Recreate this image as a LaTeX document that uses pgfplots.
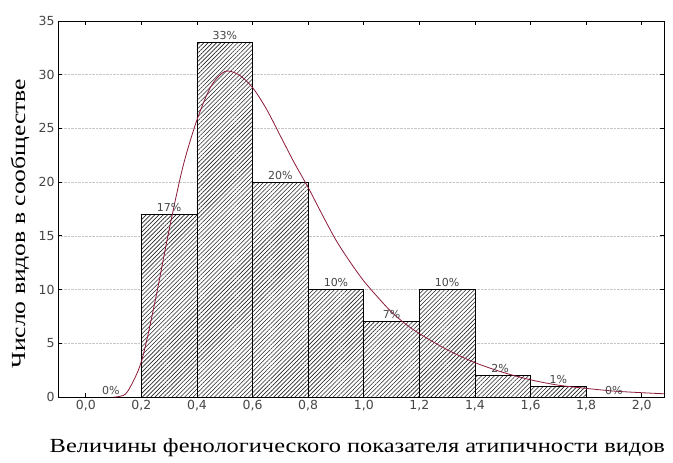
\documentclass[border=0pt]{standalone}
\usepackage{fontspec}
\setmainfont{Liberation Serif}
\newfontfamily\xlabfont[FakeStretch=1.22]{Liberation Serif}
\newfontfamily\ylabfont[FakeStretch=1.28]{Liberation Serif}
\newfontfamily\tickfont{DejaVu Sans}
\usepackage{pgfplots}
\pgfplotsset{compat=1.18}
\usetikzlibrary{patterns.meta}
\definecolor{fitred}{RGB}{140,25,55}
\definecolor{tickgray}{RGB}{70,70,70}
\begin{document}
\begin{tikzpicture}
\begin{axis}[
  name=ax, at={(0,0)}, anchor=south west,
  scale only axis, width=606pt, height=376pt,
  xmin=-0.1, xmax=2.08, ymin=0, ymax=35,
  xtick={0,0.2,0.4,0.6,0.8,1,1.2,1.4,1.6,1.8,2},
  ytick={0,5,10,15,20,25,30,35},
  tick align=inside, major tick length=4pt,
  tick style={black, line width=0.8pt},
  axis line style={black, line width=0.9pt},
  ymajorgrids, major grid style={densely dotted, gray!45, line width=0.6pt},
  /pgf/number format/assume math mode=true,
  xticklabel style={font=\tickfont\fontsize{12.5}{14}\selectfont, text=tickgray, /pgf/number format/.cd, fixed, fixed zerofill, precision=1, use comma},
  yticklabel style={font=\tickfont\fontsize{12.5}{14}\selectfont, text=tickgray},
  xlabel={Величины фенологического показателя атипичности видов},
  ylabel={Число видов в сообществе},
  xlabel style={font=\xlabfont\fontsize{20}{22}\selectfont, at={(axis description cs:0.494,0)}, anchor=center, yshift=-51pt},
  ylabel style={font=\ylabfont\fontsize{20}{22}\selectfont, at={(axis description cs:-0.0627,0.461)}, anchor=center},
  clip=false,
]
\addplot[ybar interval, draw=black, line width=0.8pt, fill=white,
  postaction={pattern={Lines[angle=45, distance=3pt, line width=0.6pt]}, pattern color=black!85}]
  coordinates {(0.2,17) (0.4,33) (0.6,20) (0.8,10) (1.0,7) (1.2,10) (1.4,2) (1.6,1) (1.8,1)};
\addplot[fitred, line width=0.8pt, smooth] coordinates {
(0.10,0) (0.12,0.05) (0.15,0.5) (0.2,3.3) (0.25,9) (0.3,15.6) (0.35,21.5) (0.4,25.8)
(0.45,28.9) (0.5,30.3) (0.55,30) (0.6,28.8) (0.65,26.8) (0.7,24.3) (0.75,21.8)
(0.8,19.5) (0.85,17) (0.9,14.6) (0.95,12.6) (1.0,10.8) (1.05,9.3) (1.1,7.9)
(1.15,6.8) (1.2,5.9) (1.3,4.4) (1.4,3.2) (1.5,2.3) (1.6,1.6) (1.7,1.1) (1.8,0.8)
(1.9,0.55) (2.0,0.4) (2.08,0.3)};
\addplot[draw=none, nodes near coords, point meta=explicit symbolic,
  nodes near coords style={font=\tickfont\fontsize{11}{12}\selectfont, text=tickgray, anchor=south, inner sep=2.5pt}]
  coordinates {(0.09,0) [0\%] (0.3,17) [17\%] (0.5,33) [33\%] (0.7,20) [20\%]
  (0.9,10) [10\%] (1.1,7) [7\%] (1.3,10) [10\%] (1.49,2) [2\%] (1.7,1) [1\%] (1.9,0) [0\%]};
\end{axis}
\path ([xshift=-58pt,yshift=-66pt]ax.south west) rectangle ([xshift=9pt,yshift=21pt]ax.north east);
\end{tikzpicture}
\end{document}
